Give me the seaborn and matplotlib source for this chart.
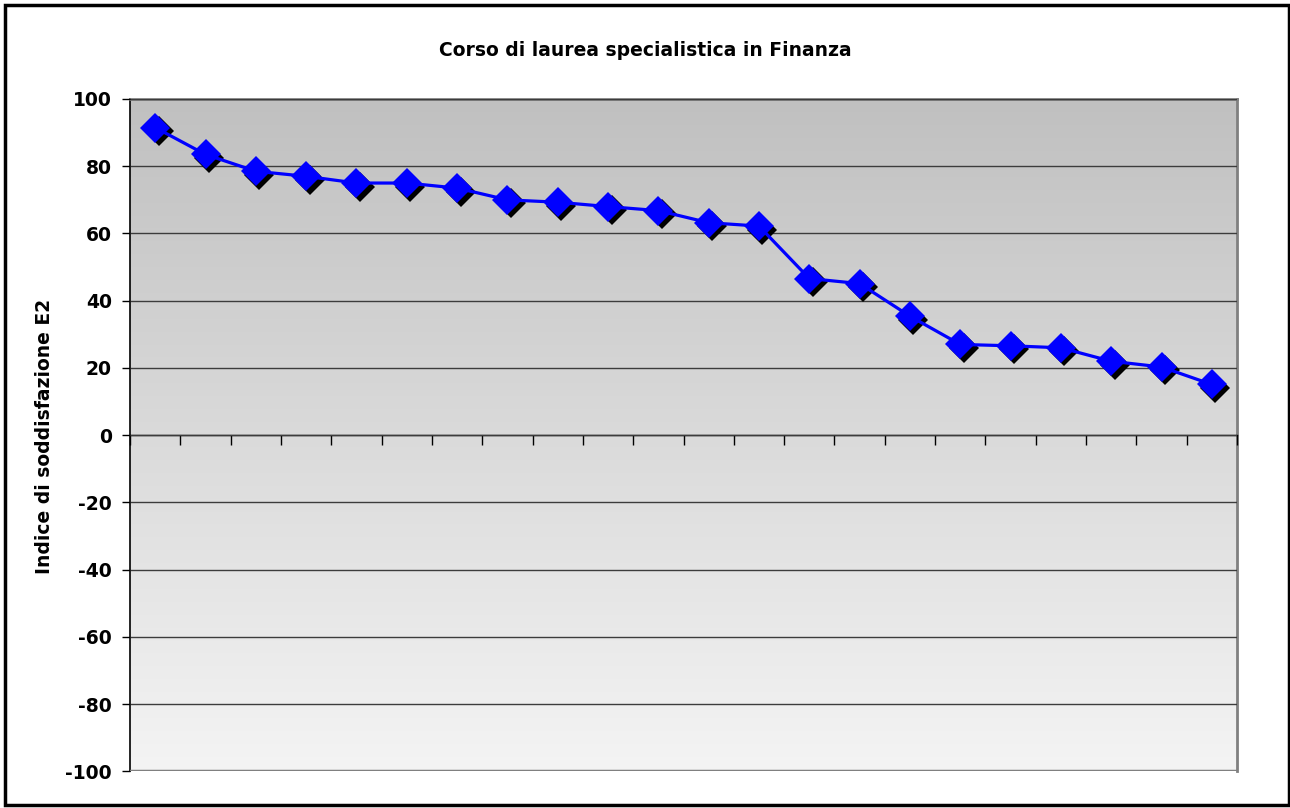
import numpy as np
import seaborn as sns
import matplotlib.pyplot as plt
from matplotlib.colors import LinearSegmentedColormap
from matplotlib.patches import Rectangle
from matplotlib.transforms import offset_copy

# ---- data ----
titolo = 'Corso di laurea specialistica in Finanza'
etichetta_y = 'Indice di soddisfazione E2'
indice_e2 = [91.5, 83.5, 78.5, 77, 75, 75, 73.5, 70, 69.3, 68, 66.8,
             63.2, 62.2, 46.6, 45.1, 35.4, 27, 26.6, 26, 22, 20.3, 15.1]
corsi = np.arange(len(indice_e2))
tick_y = [-100, -80, -60, -40, -20, 0, 20, 40, 60, 80, 100]

sns.set_theme(style='white')
plt.rcParams['font.family'] = ['DejaVu Sans']
plt.rcParams['text.color'] = 'black'
plt.rcParams['ytick.color'] = 'black'

fig = plt.figure(figsize=(12.9, 8.08), dpi=100)
ax = fig.add_axes([0.1008, 0.0452, 0.8581, 0.8323])

# gradient background of the plot area
grad = np.linspace(0, 1, 256).reshape(-1, 1)
cmap = LinearSegmentedColormap.from_list('sfondo', ['#c0c0c0', '#f4f4f4'])
ax.imshow(grad, cmap=cmap, aspect='auto', extent=(0, 1, 0, 1),
          transform=ax.transAxes, zorder=0)

# shadow of the markers
ombra = offset_copy(ax.transData, fig=fig, x=3.5, y=-3.5, units='dots')
ax.plot(corsi, indice_e2, 'D', color='black', ms=15.5, mew=0,
        transform=ombra, zorder=3)

sns.lineplot(x=corsi, y=indice_e2, color='#0000ff', linewidth=2.3,
             marker='D', markersize=15.5, markeredgewidth=0, ax=ax, zorder=4)

ax.set_xlim(-0.5, len(indice_e2) - 0.5)
ax.set_ylim(-100, 100)
ax.set_yticks(tick_y)
ax.set_yticklabels([str(t) for t in tick_y], fontweight='bold',
                   fontsize=13.5, color='black')
ax.set_xticks(np.arange(-0.5, len(indice_e2), 1))
ax.set_xticklabels([])
ax.yaxis.grid(True, color='#3c3c3c', linewidth=1)
ax.set_axisbelow(False)
for g in ax.get_ygridlines():
    g.set_zorder(1)

ax.tick_params(axis='x', bottom=True, direction='out', length=7, width=1,
               color='black', labelbottom=False)
ax.tick_params(axis='y', left=True, direction='out', length=6, width=1,
               color='black', pad=7)

ax.spines['bottom'].set_position(('data', 0))
ax.spines['bottom'].set_color('black')
ax.spines['bottom'].set_linewidth(1)
ax.spines['left'].set_color('black')
ax.spines['left'].set_linewidth(1.2)
for s in ['top', 'right']:
    ax.spines[s].set_color('#808080')
    ax.spines[s].set_linewidth(2)
ax.axhline(-100, color='#808080', linewidth=2.5, zorder=5)

fig.text(0.5, 1 - 50 / 808, titolo, ha='center', va='center',
         fontweight='bold', fontsize=13.5, color='black')
fig.text(45 / 1290, 1 - 436 / 808, etichetta_y, ha='center', va='center',
         rotation=90, fontweight='bold', fontsize=13.5, color='black')

# outer chart border
fig.patches.append(Rectangle((0.004, 0.004), 0.9955, 0.99, fill=False,
                             edgecolor='black', linewidth=2.5,
                             transform=fig.transFigure, figure=fig))

fig.savefig('out.png', dpi=100)
